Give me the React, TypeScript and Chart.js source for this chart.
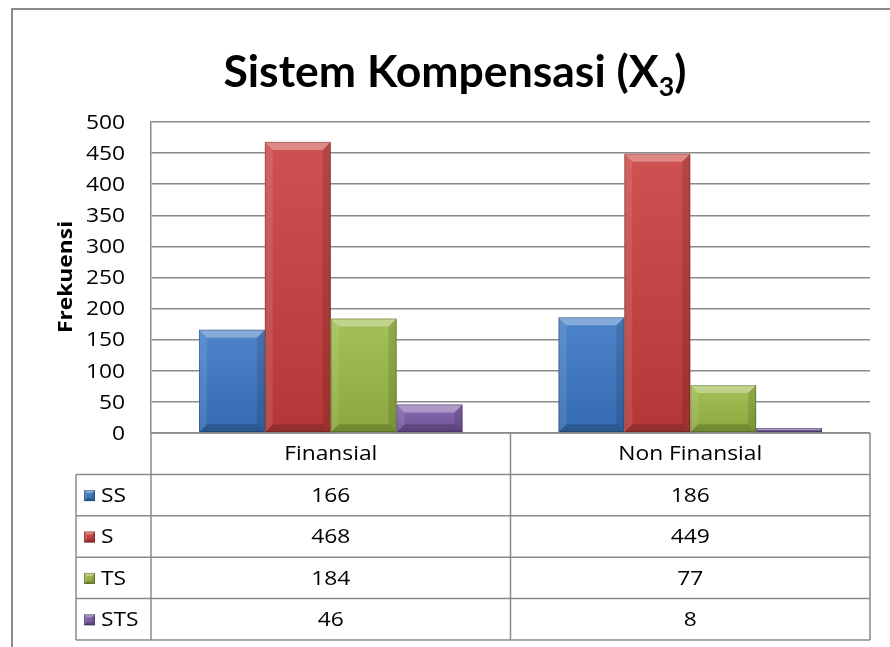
import React, { useEffect, useRef } from "react";
import { Chart, registerables } from "chart.js";

Chart.register(...registerables);

const categories = ["Finansial", "Non Finansial"];
const seriesNames = ["SS", "S", "TS", "STS"];
const ssValues = [166, 186];
const sValues = [468, 449];
const tsValues = [184, 77];
const stsValues = [46, 8];
const yTicks = [0, 50, 100, 150, 200, 250, 300, 350, 400, 450, 500];
const titleMain = "Sistem Kompensasi (X";
const titleSub = "3";
const titleEnd = ")";
const yTitle = "Frekuensi";

const seriesColors = ["#3a77c4", "#c93d3d", "#9aba44", "#7a5ba6"];
const TITLE_FONT = "Lato, 'Open Sans', sans-serif";
const BODY_FONT = "'Open Sans', Lato, sans-serif";
const SX = 1.14;
const GRID = "#8a8a8a";

function stretchText(ctx: CanvasRenderingContext2D, text: string, x: number, y: number, align: CanvasTextAlign) {
  ctx.save();
  ctx.translate(x, y);
  ctx.scale(SX, 1);
  ctx.textAlign = align;
  ctx.fillText(text, 0, 0);
  ctx.restore();
}

function bevelRect(ctx: CanvasRenderingContext2D, l: number, t: number, r: number, b: number, color: string, bev: number) {
  const w = r - l;
  const h = b - t;
  if (w <= 0 || h <= 0) return;
  const bv = Math.min(bev, w / 2, h / 2);
  ctx.save();
  ctx.fillStyle = color;
  ctx.fillRect(l, t, w, h);
  const g = ctx.createLinearGradient(0, t, 0, b);
  g.addColorStop(0, "rgba(255,255,255,0.10)");
  g.addColorStop(1, "rgba(0,0,0,0.10)");
  ctx.fillStyle = g;
  ctx.fillRect(l, t, w, h);
  const poly = (pts: number[][], fill: string) => {
    ctx.beginPath();
    ctx.moveTo(pts[0][0], pts[0][1]);
    for (let i = 1; i < pts.length; i++) ctx.lineTo(pts[i][0], pts[i][1]);
    ctx.closePath();
    ctx.fillStyle = fill;
    ctx.fill();
  };
  poly([[l, t], [r, t], [r - bv, t + bv], [l + bv, t + bv]], "rgba(255,255,255,0.32)");
  poly([[l, t], [l + bv, t + bv], [l + bv, b - bv], [l, b]], "rgba(255,255,255,0.10)");
  poly([[r, t], [r - bv, t + bv], [r - bv, b - bv], [r, b]], "rgba(0,0,0,0.12)");
  poly([[l, b], [l + bv, b - bv], [r - bv, b - bv], [r, b]], "rgba(0,0,0,0.18)");
  ctx.strokeStyle = "rgba(0,0,0,0.22)";
  ctx.lineWidth = 1;
  ctx.strokeRect(l + 0.5, t + 0.5, w - 1, h - 1);
  ctx.restore();
}

const framePlugin = {
  id: "frame",
  beforeDraw(chart: any) {
    const ctx = chart.ctx;
    ctx.save();
    ctx.fillStyle = "#ffffff";
    ctx.fillRect(0, 0, chart.width, chart.height);
    ctx.strokeStyle = "#8a8a8a";
    ctx.lineWidth = 2;
    ctx.beginPath();
    ctx.moveTo(12, chart.height);
    ctx.lineTo(12, 9);
    ctx.lineTo(chart.width, 9);
    ctx.stroke();
    ctx.restore();
  },
};

const barPlugin = {
  id: "bevelBars",
  afterDatasetsDraw(chart: any) {
    const ctx = chart.ctx;
    chart.data.datasets.forEach((ds: any, i: number) => {
      const meta = chart.getDatasetMeta(i);
      meta.data.forEach((el: any) => {
        const l = el.x - el.width / 2;
        const r = el.x + el.width / 2;
        bevelRect(ctx, l, Math.min(el.y, el.base), r, Math.max(el.y, el.base), seriesColors[i], 8);
      });
    });
  },
};

const textPlugin = {
  id: "texts",
  afterDraw(chart: any) {
    const ctx = chart.ctx;
    ctx.save();
    ctx.fillStyle = "#000";
    // title
    const baseSize = 40;
    ctx.font = `bold ${baseSize}px ${TITLE_FONT}`;
    const wMain0 = ctx.measureText(titleMain).width;
    const wEnd0 = ctx.measureText(titleEnd).width;
    ctx.font = `bold ${baseSize * 0.6}px ${TITLE_FONT}`;
    const wSub0 = ctx.measureText(titleSub).width;
    const total0 = wMain0 + wSub0 + wEnd0;
    const size = baseSize * (463 / total0);
    const k = size / baseSize;
    const startX = 455 - (total0 * k) / 2;
    const baseY = 87;
    ctx.textAlign = "left";
    ctx.textBaseline = "alphabetic";
    ctx.font = `bold ${size}px ${TITLE_FONT}`;
    ctx.fillText(titleMain, startX, baseY);
    ctx.font = `bold ${size * 0.6}px ${TITLE_FONT}`;
    ctx.fillText(titleSub, startX + wMain0 * k, baseY + size * 0.2);
    ctx.font = `bold ${size}px ${TITLE_FONT}`;
    ctx.fillText(titleEnd, startX + (wMain0 + wSub0) * k, baseY);

    // y title
    ctx.save();
    ctx.translate(72, 277);
    ctx.rotate(-Math.PI / 2);
    ctx.font = `bold 20px ${BODY_FONT}`;
    ctx.textBaseline = "alphabetic";
    stretchText(ctx, yTitle, 0, 0, "center");
    ctx.restore();

    // y tick labels
    const ys = chart.scales.y;
    ctx.font = `20px ${BODY_FONT}`;
    ctx.textBaseline = "middle";
    ys.ticks.forEach((t: any) => {
      stretchText(ctx, String(t.value), 125, ys.getPixelForValue(t.value) + 1, "right");
    });

    // data table
    const area = chart.chartArea;
    const xs = chart.scales.x;
    const top = area.bottom;
    const left = area.left;
    const right = area.right;
    const legendLeft = 76;
    const rowH = 41.4;
    const nRows = chart.data.datasets.length;
    const bottom = top + rowH * (nRows + 1);
    const n = categories.length;
    const colW = (right - left) / n;

    ctx.strokeStyle = GRID;
    ctx.lineWidth = 1.5;
    ctx.beginPath();
    ctx.moveTo(left, top);
    ctx.lineTo(right, top);
    for (let r = 1; r <= nRows + 1; r++) {
      const y = top + rowH * r;
      ctx.moveTo(legendLeft, y);
      ctx.lineTo(right, y);
    }
    ctx.moveTo(legendLeft, top + rowH);
    ctx.lineTo(legendLeft, bottom);
    ctx.moveTo(left, top);
    ctx.lineTo(left, bottom);
    for (let i = 0; i < n; i++) {
      const xr = xs.getPixelForValue(i) + colW / 2;
      ctx.moveTo(xr, top);
      ctx.lineTo(xr, bottom);
    }
    ctx.stroke();

    ctx.fillStyle = "#000";
    ctx.font = `20px ${BODY_FONT}`;
    ctx.textBaseline = "middle";
    categories.forEach((c, i) => {
      stretchText(ctx, c, xs.getPixelForValue(i), top + rowH / 2 + 1, "center");
    });
    chart.data.datasets.forEach((ds: any, r: number) => {
      const cy = top + rowH * (r + 1) + rowH / 2 + 1;
      bevelRect(ctx, 84, cy - 6, 95, cy + 5, seriesColors[r], 3);
      ctx.fillStyle = "#000";
      stretchText(ctx, ds.label, 101, cy, "left");
      ds.data.forEach((v: number, i: number) => {
        stretchText(ctx, String(v), xs.getPixelForValue(i), cy, "center");
      });
    });
    ctx.restore();
  },
};

export default function App() {
  const ref = useRef<HTMLCanvasElement | null>(null);
  useEffect(() => {
    document.body.style.margin = "0";
    const canvas = ref.current;
    if (!canvas) return;
    const values = [ssValues, sValues, tsValues, stsValues];
    const chart = new Chart(canvas, {
      type: "bar",
      data: {
        labels: categories,
        datasets: seriesNames.map((name, i) => ({
          label: name,
          data: values[i],
          backgroundColor: "rgba(0,0,0,0)",
          borderWidth: 0,
          categoryPercentage: 0.733,
          barPercentage: 1,
        })),
      },
      options: {
        responsive: false,
        animation: false,
        devicePixelRatio: 1,
        layout: { padding: { top: 122, bottom: 214, left: 0, right: 20 } },
        plugins: {
          legend: { display: false },
          title: { display: false },
          tooltip: { enabled: false },
        },
        scales: {
          x: {
            display: true,
            offset: true,
            ticks: { display: false },
            grid: { display: false, drawTicks: false },
            border: { display: false },
          },
          y: {
            min: 0,
            max: 500,
            afterFit: (s: any) => {
              s.width = 151;
            },
            afterBuildTicks: (s: any) => {
              s.ticks = yTicks.map((v) => ({ value: v }));
            },
            ticks: { display: false },
            grid: { color: GRID, lineWidth: 1.5, drawTicks: false },
            border: { display: true, color: GRID, width: 1.5 },
          },
        },
      },
      plugins: [framePlugin, barPlugin, textPlugin],
    });
    return () => chart.destroy();
  }, []);
  return (
    <div style={{ width: 890, height: 647 }}>
      <canvas ref={ref} width={890} height={647} />
    </div>
  );
}
